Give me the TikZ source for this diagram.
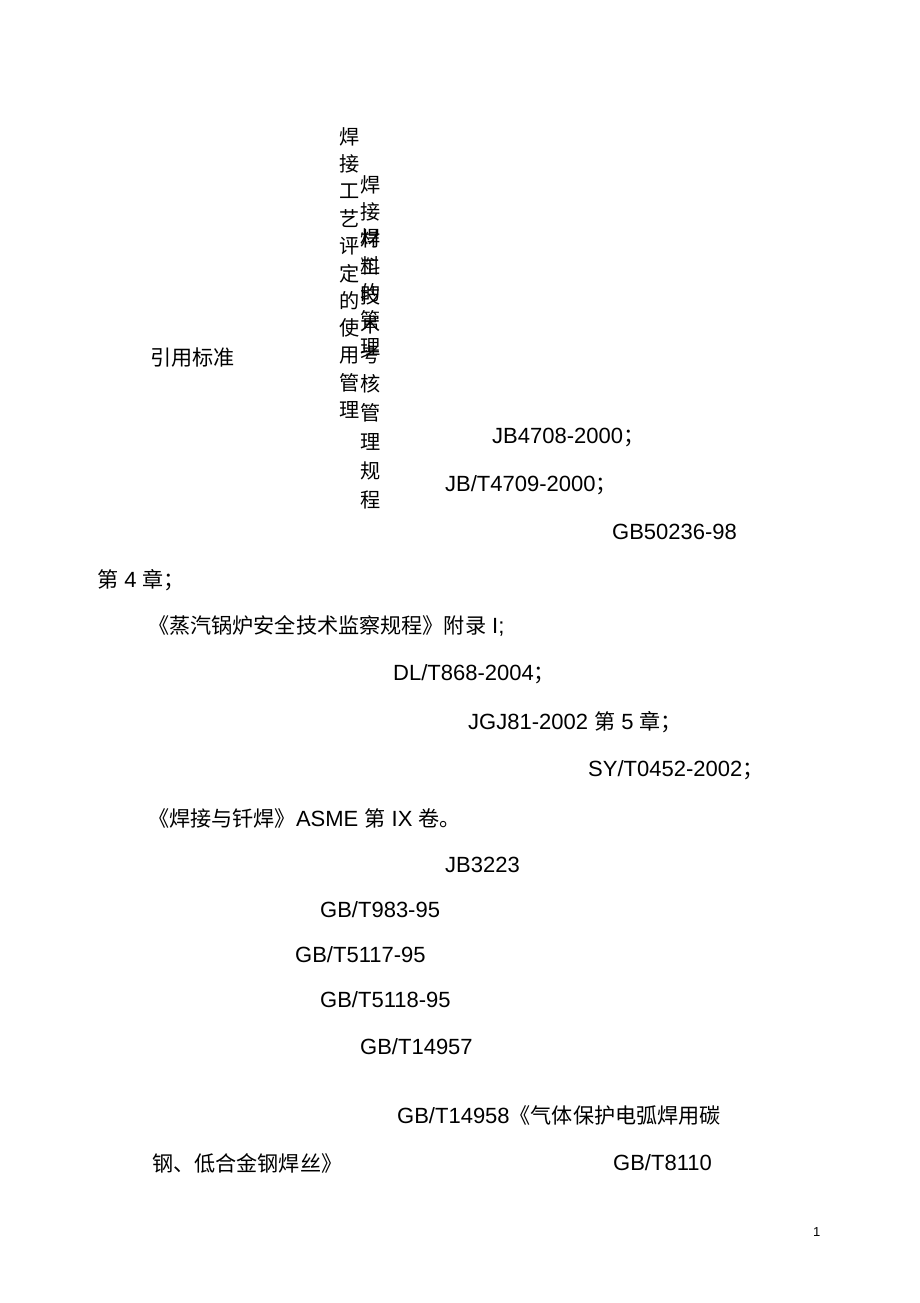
\documentclass[tikz,border=0pt]{standalone}
\usepackage{fontspec}
\setmainfont{Liberation Sans}
\newfontfamily\cjk[Scale=0.96]{Noto Sans CJK SC}
\usetikzlibrary{positioning}

\tikzset{
    txt/.style={anchor=west, inner sep=0pt, font=\fontsize{22}{26}\selectfont},
    vch/.style={inner sep=0pt, font=\fontsize{21}{24}\cjk\selectfont}
}

\begin{document}
\begin{tikzpicture}[x=1pt,y=-1pt]
        \fill[white] (0,0) rectangle (920,1303);
        \useasboundingbox (0,0) rectangle (920,1303);
        % vertical columns
        \foreach \c [count=\i] in {焊,接,工,艺,评,定,的,使,用,管,理}
            \node[vch] (va\i) at (350, {137+(\i-1)*27.3}) {\c};
        \foreach \c [count=\i] in {焊,接,材,料,的,管,理}
            \node[vch] (vb\i) at (371, {185+(\i-1)*27}) {\c};
        \foreach \c [count=\i] in {焊,工,技,术,考,核,管,理,规,程}
            \node[vch] (vc\i) at (371, {238+(\i-1)*29.1}) {\c};
        % standards
        \node[txt] (ref) at (150,358) {\cjk 引用标准};
        \node[txt] (jb4708) at (492,438) {JB4708-2000{\cjk ；}};
        \node[txt] (jb4709) at (445,485) {JB/T4709-2000{\cjk ；}};
        \node[txt] (gb50236) at (612,532) {GB50236-98};
        \node[txt] (ch4) at (97,580) {{\cjk 第} 4 {\cjk 章；}};
        \node[txt] (boiler) at (148,626) {{\cjk 《蒸汽锅炉安全技术监察规程》附录} I;};
        \node[txt] (dl868) at (393,674) {DL/T868-2004{\cjk ；}};
        \node[txt] (jgj81) at (468,722) {JGJ81-2002 {\cjk 第} 5 {\cjk 章；}};
        \node[txt] (sy0452) at (588,770) {SY/T0452-2002{\cjk ；}};
        \node[txt] (asme) at (148,818) {{\cjk 《焊接与钎焊》}ASME {\cjk 第} IX {\cjk 卷。}};
        \node[txt] (jb3223) at (445,865) {JB3223};
        \node[txt] (gb983) at (320,910) {GB/T983-95};
        \node[txt] (gb5117) at (295,955) {GB/T5117-95};
        \node[txt] (gb5118) at (320,1000) {GB/T5118-95};
        \node[txt] (gb14957) at (360,1047) {GB/T14957};
        \node[txt] (gb14958) at (397,1115) {GB/T14958{\cjk 《气体保护电弧焊用碳}};
        \node[txt] (wire) at (152,1163) {\cjk 钢、低合金钢焊丝》};
        \node[txt] (gb8110) at (613,1163) {GB/T8110};
        \node[txt, font=\fontsize{13}{15}\selectfont] (page) at (813,1232) {1};
\end{tikzpicture}
\end{document}
